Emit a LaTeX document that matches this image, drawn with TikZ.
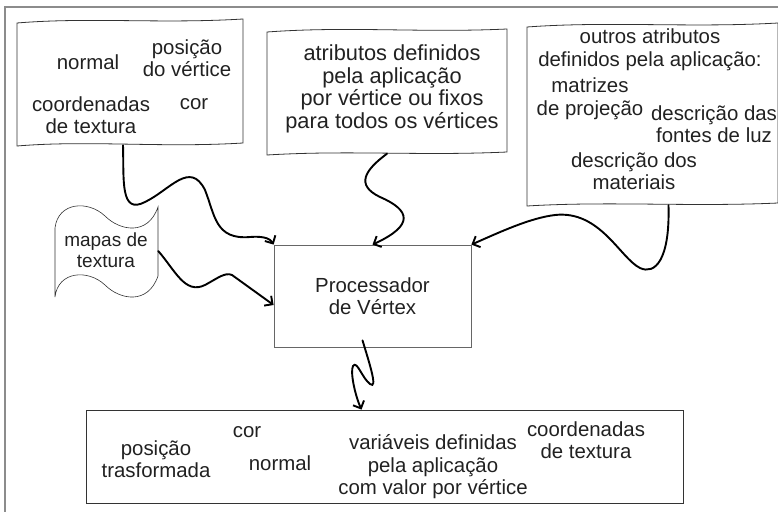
\documentclass[tikz,border=0pt]{standalone}
\usepackage{fontspec}
\setmainfont{Liberation Sans}
\usetikzlibrary{arrows.meta}

\tikzset{
  lbl/.style={align=center, inner sep=0pt, text=black!87, font=\fontsize{20.4}{22.5}\selectfont},
  biglbl/.style={lbl, font=\fontsize{21.8}{22.5}\selectfont},
  smalllbl/.style={lbl, font=\fontsize{19}{21}\selectfont},
  holder/.style={rectangle, inner sep=0pt},
  sheet/.style={draw=black!80, line width=0.8pt},
  flow/.style={line width=1.9pt, line cap=round, -{Straight Barb[length=6pt,width=12pt]}},
}

\begin{document}
\begin{tikzpicture}[x=1pt,y=-1pt]
\useasboundingbox (0,0) rectangle (778,511);
\clip (0,0) rectangle (778,511);
% moldura
\draw[black!45, line width=1.5pt] (5,7) rectangle (800,530);

% atributos por vertice
\node[holder, minimum width=226pt, minimum height=124pt] (vtx) at (130,83) {};
\draw[sheet] (17,23) .. controls (90,17) and (160,24) .. (243,19) -- (243,143)
  .. controls (160,148) and (90,140) .. (17,146) -- cycle;
\node[lbl] (vtxnormal) at (88,62) {normal};
\node[lbl] (vtxpos) at (187,58) {posição\\do vértice};
\node[lbl] (vtxcoord) at (91,115) {coordenadas\\de textura};
\node[lbl] (vtxcor) at (194,104) {cor};

% atributos da aplicacao
\node[holder, minimum width=240pt, minimum height=123pt] (app) at (387,92) {};
\draw[sheet] (267,32) .. controls (350,26) and (420,33) .. (507,29) -- (507,152)
  .. controls (420,156) and (350,150) .. (267,155) -- cycle;
\node[biglbl] (apptext) at (392,89) {atributos definidos\\pela aplicação\\por vértice ou fixos\\para todos os vértices};

% outros atributos
\node[holder, minimum width=251pt, minimum height=180pt] (other) at (652,115) {};
\draw[sheet] (527,27) .. controls (610,21) and (690,28) .. (778,23) -- (778,203)
  .. controls (690,207) and (610,201) .. (527,206) -- cycle;
\node[lbl] (othertitle) at (650,50) {outros atributos\\definidos pela aplicação:};
\node[lbl] (othermat) at (590,99) {matrizes\\de projeção};
\node[lbl] (otherlight) at (714,124) {descrição das\\fontes de luz};
\node[lbl] (othermtl) at (634,171) {descrição dos\\materiais};

% mapas de textura
\node[holder, minimum width=103pt, minimum height=70pt] (maps) at (106.5,251) {};
\draw[sheet, line width=0.6pt] (55,228) .. controls (58,202) and (88,200) .. (105,216)
  .. controls (120,231) and (148,236) .. (158,207) -- (158,276)
  .. controls (148,305) and (120,300) .. (105,285)
  .. controls (88,269) and (58,271) .. (55,297) -- cycle;
\node[smalllbl] (mapstext) at (106,250) {mapas de\\textura};

% processador
\node[draw=black!60, line width=0.8pt, minimum width=197pt, minimum height=102pt, lbl]
  (proc) at (372.5,296) {Processador\\de Vértex};

% saida
\node[draw=black!80, line width=0.8pt, minimum width=597pt, minimum height=93pt]
  (out) at (384.5,456.5) {};
\node[lbl] (outpos) at (156,459) {posição\\trasformada};
\node[lbl] (outcor) at (247,432) {cor};
\node[lbl] (outnormal) at (280,463) {normal};
\node[lbl] (outvar) at (433,467) {variáveis definidas\\pela aplicação\\com valor por vértice};
\node[lbl] (outcoord) at (586,440) {coordenadas\\de textura};

% conexoes
\draw[flow] ([xshift=-7pt]vtx.south) .. controls (124,180) and (120,215) .. (145,202)
  .. controls (170,190) and (190,160) .. (205,190)
  .. controls (215,215) and (215,240) .. (250,237)
  .. controls (262,236) and (270,238) .. (proc.north west);
\draw[flow] (maps.east) .. controls (175,270) and (185,295) .. (205,285)
  .. controls (218,278) and (225,272) .. (232,275) -- ([yshift=-9pt]proc.west);
\draw[flow] (app.south) .. controls (365,170) and (355,185) .. (380,197)
  .. controls (410,210) and (415,225) .. (proc.north);
\draw[flow] ([xshift=16.5pt]other.south) .. controls (670,260) and (655,275) .. (640,268)
  .. controls (620,258) and (600,210) .. (555,215)
  .. controls (530,218) and (500,232) .. (proc.north east);
\draw[flow] ([xshift=-10pt,yshift=7pt]proc.south) .. controls (370,365) and (378,390) .. (370,384)
  .. controls (362,378) and (357,360) .. (353,366)
  .. controls (350,372) and (355,395) .. ([xshift=-23pt]out.north);
\end{tikzpicture}
\end{document}
